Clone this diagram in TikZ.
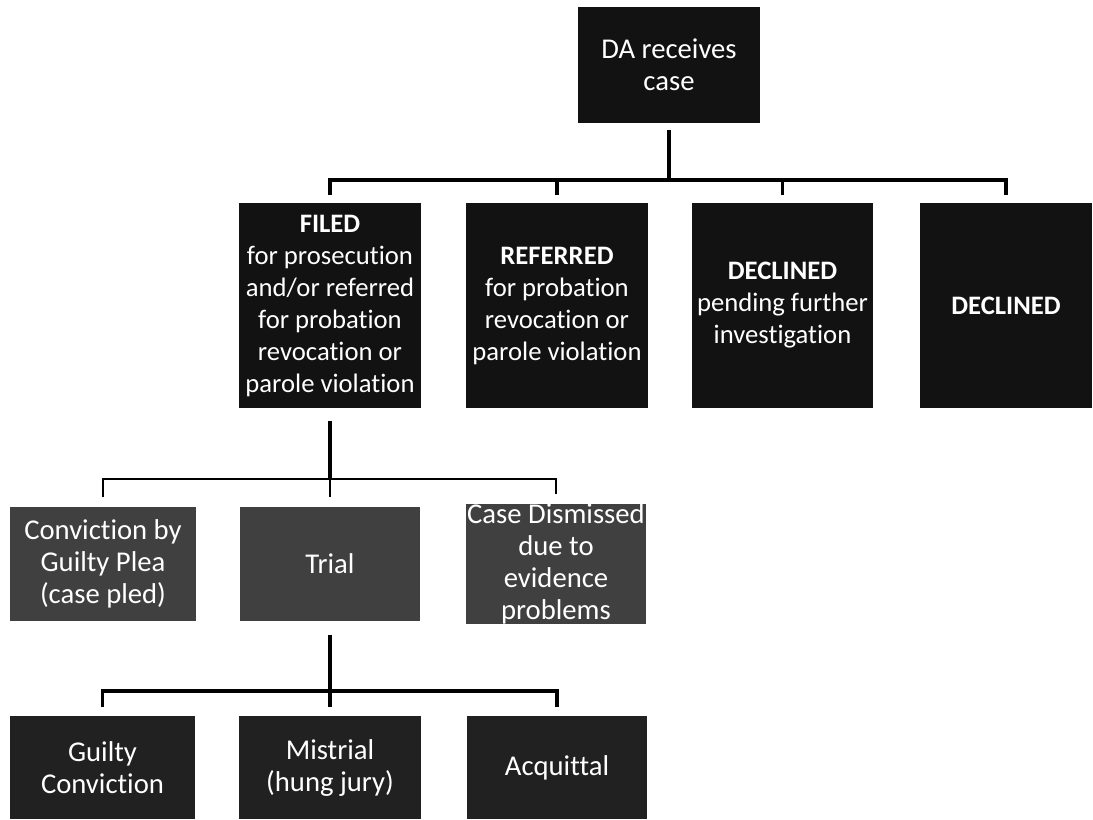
\documentclass[tikz,border=0pt]{standalone}
\usepackage{fontspec}
\setmainfont{Carlito}[Ligatures=NoCommon]
\usetikzlibrary{positioning}
\pgfkeys{/tikz/.cd,
    chart style/.style={
        x=0.75pt, y=-0.75pt,   % one unit = one pixel, y runs downward
        line width=2.5pt
    },
    darkbox/.style={
        fill=black!93, text=white, align=center, inner sep=0pt,
        font=\fontsize{21.5}{24}\selectfont
    },
    midbox/.style={darkbox, fill=black!93, font=\fontsize{20}{24}\selectfont},
    greybox/.style={darkbox, fill=black!75},
    lowbox/.style={darkbox, fill=black!87},
    link/.style={draw=black, line width=2.5pt}
}

\begin{document}
\begin{tikzpicture}[chart style]

    \clip (0,0) rectangle (1093,819);

    % --- 1. top box ---
    \node[darkbox, minimum width=136.5pt, minimum height=87pt] (da) at (669,65) {DA receives\\case};

    % --- 2. second row ---
    \node[midbox, minimum width=136pt, minimum height=154pt] (filed) at (330,305.5)
        {\textbf{FILED}\\for prosecution\\and/or referred\\for probation\\revocation or\\parole violation};
    \node[midbox, minimum width=136.5pt, minimum height=154pt] (referred) at (557,305.5)
        {\textbf{REFERRED}\\for probation\\revocation or\\parole violation};
    \node[midbox, minimum width=136pt, minimum height=154pt] (pending) at (782.5,305.5)
        {\textbf{DECLINED}\\pending further\\investigation};
    \node[midbox, minimum width=129pt, minimum height=154pt] (declined) at (1006,305.5)
        {\textbf{DECLINED}};

    % --- 3. third row ---
    \node[greybox, minimum width=139.5pt, minimum height=85.5pt] (plea) at (103,564)
        {Conviction by\\Guilty Plea\\(case pled)};
    \node[greybox, minimum width=135pt, minimum height=85.5pt] (trial) at (330,564) {Trial};
    \node[greybox, minimum width=135pt, minimum height=85.5pt] (dismissed) at (556,564)
        {Case Dismissed\\due to\\evidence\\problems};

    % --- 4. bottom row ---
    \node[lowbox, minimum width=139pt, minimum height=77pt] (guilty) at (102.5,767.5)
        {Guilty\\Conviction};
    \node[lowbox, minimum width=136pt, minimum height=77pt] (mistrial) at (330,767.5)
        {Mistrial\\(hung jury)};
    \node[lowbox, minimum width=135pt, minimum height=77pt] (acquittal) at (557,767.5)
        {Acquittal};

    % --- 5. connectors ---
    \coordinate (busA) at (669,180);
    \coordinate (busB) at (330,479);
    \coordinate (busC) at (330,691);

    \draw[link, shorten <=4pt] (da.south) -- (busA);
    \foreach \n in {filed, referred, pending, declined}
        \draw[link, shorten <=4.5pt] (\n.north) |- (busA);

    \draw[link, shorten <=8pt] (filed.south) -- (busB);
    \foreach \n in {plea, trial, dismissed}
        \draw[link, line width=2.1pt, shorten <=6pt] (\n.north) |- (busB);

    \draw[link, shorten <=9pt] (trial.south) -- (busC);
    \foreach \n in {guilty, mistrial, acquittal}
        \draw[link, shorten <=6pt] (\n.north) |- (busC);

\end{tikzpicture}
\end{document}
